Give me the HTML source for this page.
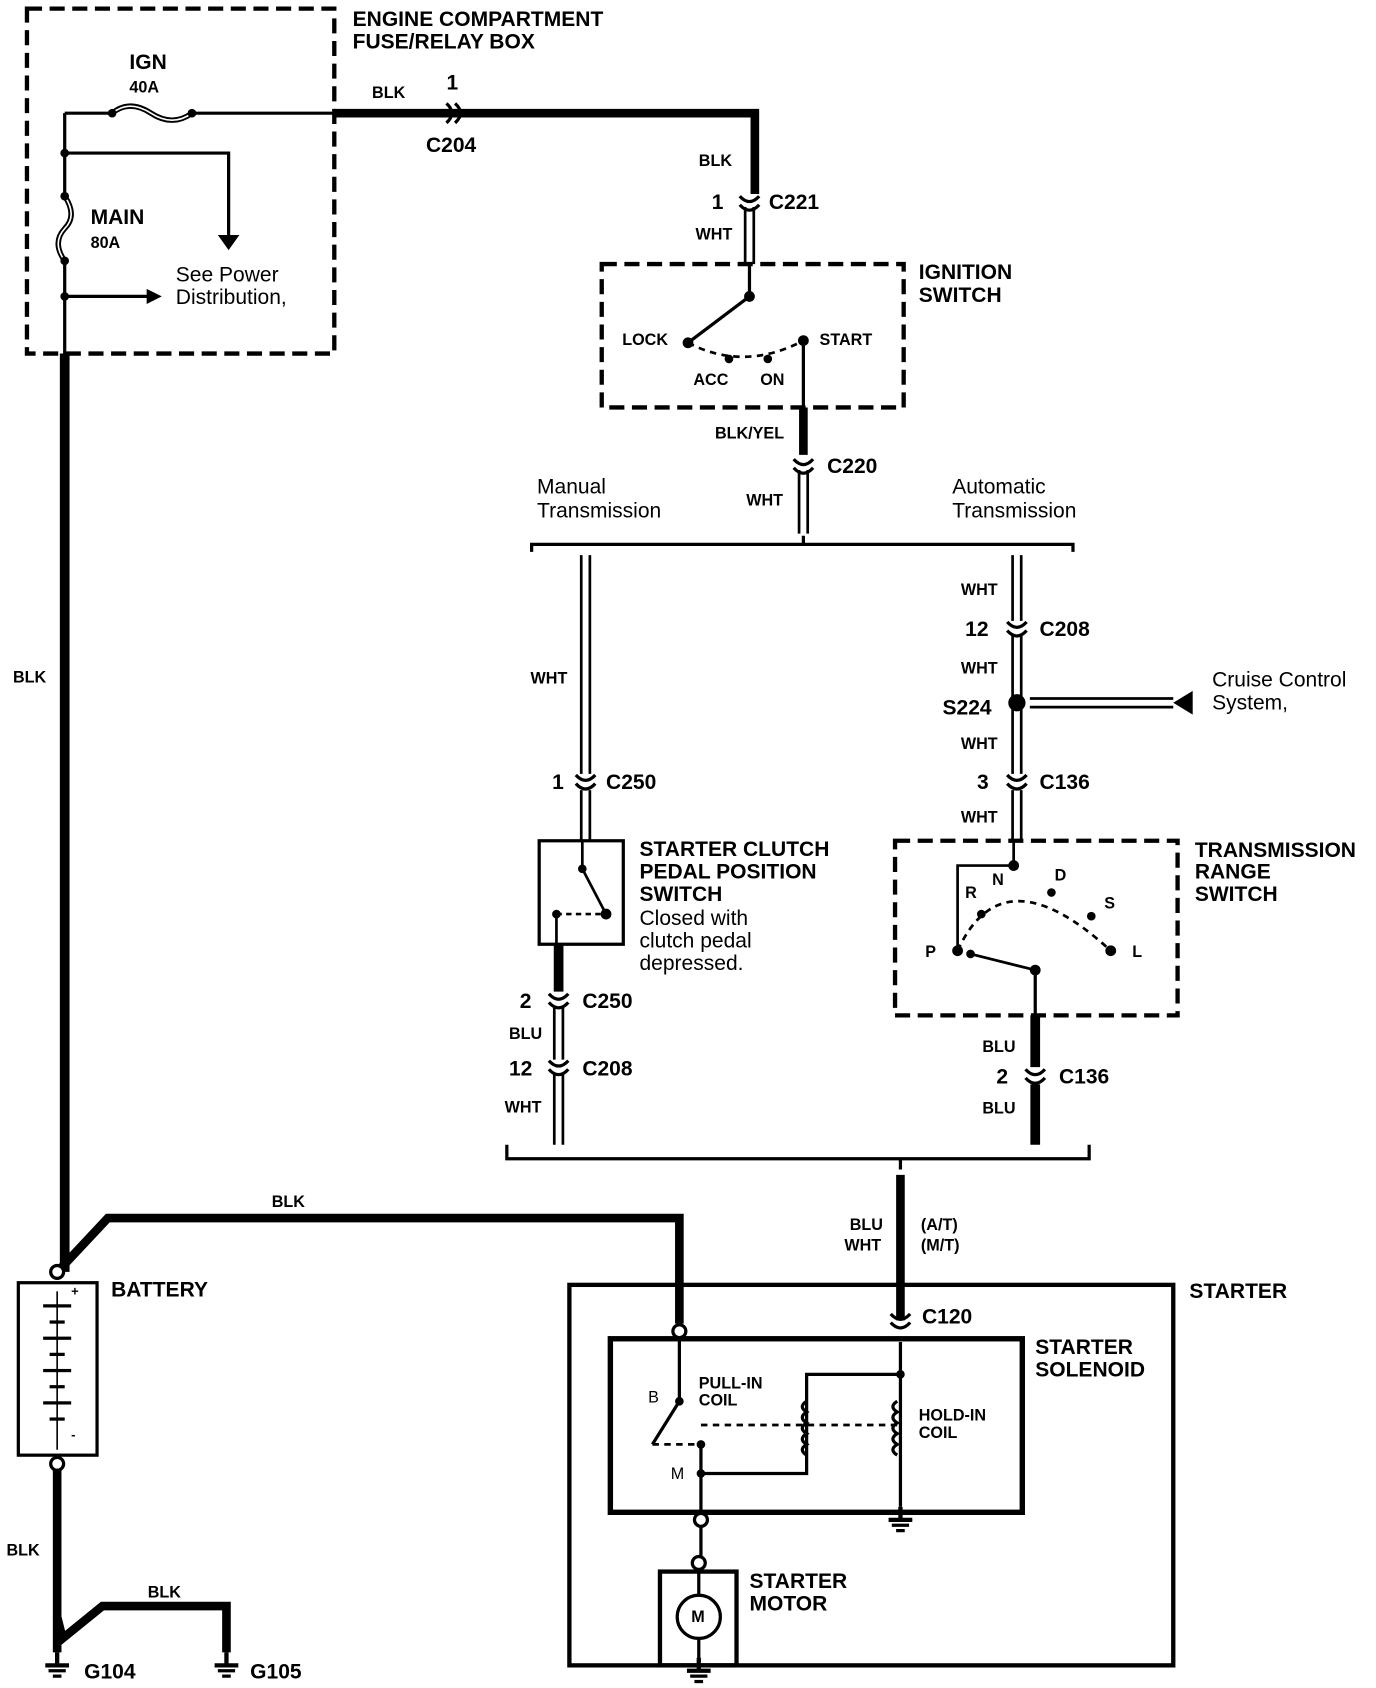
<!DOCTYPE html>
<html><head><meta charset="utf-8"><style>
html,body{margin:0;padding:0;background:#fff}
svg{display:block}
text{font-family:"Liberation Sans",Arial,sans-serif;font-weight:bold;fill:#000}
</style></head><body>
<svg width="1376" height="1688" viewBox="0 0 1276 1566" preserveAspectRatio="none" xmlns="http://www.w3.org/2000/svg">
<defs>
<g id="conn"><path d="M-9,-6 Q0,4 9,-6 M-9,2 Q0,12 9,2" fill="none" stroke="#000" stroke-width="3"/></g>
<g id="connh"><path d="M-6,-9 Q4,0 -6,9 M2,-9 Q12,0 2,9" fill="none" stroke="#000" stroke-width="3"/></g>
<g id="gnd"><line x1="0" y1="-12" x2="0" y2="0" stroke="#000" stroke-width="4"/><line x1="-11" y1="0" x2="11" y2="0" stroke="#000" stroke-width="4"/><line x1="-8" y1="5" x2="8" y2="5" stroke="#000" stroke-width="3"/><line x1="-4" y1="10" x2="4" y2="10" stroke="#000" stroke-width="3"/></g>
</defs>
<g fill="none" stroke="#000">
<rect x="25" y="8" width="285" height="320" stroke-width="4" stroke-dasharray="14,7"/>
<path d="M60,105 H104 M178,105 H310" stroke-width="3"/>
<path d="M104,105 Q120,92 140,105 Q160,118 178,105" stroke-width="5"/>
<path d="M104,105 Q120,92 140,105 Q160,118 178,105" stroke="#fff" stroke-width="1.5"/>
<path d="M60,105 V182 M60,242 V328" stroke-width="3"/>
<path d="M60,182 Q72,200 60,212 Q48,225 60,242" stroke-width="5"/>
<path d="M60,182 Q72,200 60,212 Q48,225 60,242" stroke="#fff" stroke-width="1.5"/>
<path d="M60,142 H212 V218 M60,275 H140" stroke-width="3"/>
<path d="M60,328 V1180" stroke-width="9"/>
<path d="M310,105 H700 V180" stroke-width="8"/>
<path d="M691,192 V245 M699,192 V245" stroke-width="2.5"/>
<rect x="558" y="245" width="280" height="133" stroke-width="4" stroke-dasharray="14,7"/>
<path d="M695,245 V275 L638,318" stroke-width="3"/>
<path d="M638,318 Q690,345 745,316" stroke-width="2.5" stroke-dasharray="6,5"/>
<path d="M745,316 V378" stroke-width="3"/>
<path d="M745,378 V422" stroke-width="8"/>
<path d="M741,436 V495 M749,436 V495" stroke-width="2.5"/>
<path d="M493,512 V505 H995 V512 M745,505 V497" stroke-width="3"/>
<path d="M539,515 V718 M547,515 V718 M539,733 V780 M547,733 V780" stroke-width="2.5"/>
<rect x="500" y="780" width="78" height="96" stroke-width="3"/>
<path d="M540,780 V806 L562,848 M516,848 V876" stroke-width="2.5"/>
<path d="M516,848 H562" stroke-width="2.5" stroke-dasharray="5,4"/>
<path d="M518,876 V920" stroke-width="9"/>
<path d="M514,935 V983 M522,935 V983 M514,997 V1062 M522,997 V1062" stroke-width="2.5"/>
<path d="M939,515 V576 M947,515 V576 M939,590 V718 M947,590 V718 M939,733 V780 M947,733 V780" stroke-width="2.5"/>
<path d="M955,648 H1088 M955,656 H1088" stroke-width="2.5"/>
<rect x="830" y="780" width="262" height="162" stroke-width="4" stroke-dasharray="14,7"/>
<path d="M940,780 V803 M888,882 V803 H940 M960,900 L900,885" stroke-width="2.5"/>
<path d="M888,882 Q930,790 1030,882" stroke-width="2.5" stroke-dasharray="6,5"/>
<path d="M960,900 V942" stroke-width="3"/>
<path d="M960,942 V990 M960,1006 V1062" stroke-width="9"/>
<path d="M470,1062 V1075 H1010 V1062 M835,1075 V1085" stroke-width="3"/>
<path d="M835,1090 V1225" stroke-width="8"/>
<path d="M57,1176 L100,1130 H630 V1228" stroke-width="8"/>
<rect x="17" y="1190" width="73" height="160" stroke-width="3"/>
<path d="M53,1198 V1345" stroke-width="1.5"/>
<path d="M53,1358 V1500 L58,1520 L95,1490 H210 V1533" stroke-width="8"/>
<path d="M53,1500 V1533" stroke-width="8"/>
<rect x="528" y="1192" width="560" height="353" stroke-width="4"/>
<rect x="566" y="1242" width="382" height="161" stroke-width="5"/>
<path d="M630,1241 V1300 M630,1300 L605,1340 M650,1340 V1410" stroke-width="3"/>
<path d="M605,1340 H650 M650,1322 H832" stroke-width="2.5" stroke-dasharray="6,5"/>
<path d="M835,1245 V1398 M650,1367 H748 V1275 H832" stroke-width="3"/>
<path d="M748,1300 q-8,5 0,10 q-8,5 0,10 q-8,5 0,10 q-8,5 0,10 q-8,5 0,10 M832,1300 q-8,5 0,10 q-8,5 0,10 q-8,5 0,10 q-8,5 0,10 q-8,5 0,10" stroke-width="3"/>
<path d="M650,1415 V1445 M648,1455 V1480 M648,1520 V1550" stroke-width="3"/>
<rect x="612" y="1458" width="71" height="87" stroke-width="4"/>
<circle cx="648" cy="1500" r="20" stroke-width="3"/>
</g>
<g fill="#000">
<circle cx="104" cy="105" r="4"/><circle cx="178" cy="105" r="4"/>
<circle cx="60" cy="142" r="4"/><circle cx="60" cy="182" r="4"/><circle cx="60" cy="242" r="4"/><circle cx="60" cy="275" r="4"/>
<polygon points="202,218 222,218 212,232"/><polygon points="136,268 136,282 150,275"/>
<circle cx="695" cy="275" r="5"/><circle cx="638" cy="318" r="5"/><circle cx="676" cy="333" r="4"/><circle cx="712" cy="333" r="4"/><circle cx="745" cy="316" r="5"/>
<circle cx="540" cy="806" r="4"/><circle cx="562" cy="848" r="5"/><circle cx="516" cy="848" r="4"/>
<circle cx="943" cy="652" r="8"/><polygon points="1088,652 1106,641 1106,663"/>
<circle cx="940" cy="803" r="5"/><circle cx="910" cy="848" r="4"/><circle cx="888" cy="882" r="5"/><circle cx="975" cy="828" r="4"/><circle cx="1012" cy="850" r="4"/><circle cx="1030" cy="882" r="5"/><circle cx="900" cy="885" r="4"/><circle cx="960" cy="900" r="5"/>
<circle cx="630" cy="1300" r="4"/><circle cx="650" cy="1340" r="4"/><circle cx="650" cy="1367" r="4"/><circle cx="835" cy="1275" r="4"/>
<rect x="40" y="1210" width="26" height="3"/><rect x="46" y="1225" width="14" height="3"/><rect x="40" y="1240" width="26" height="3"/><rect x="46" y="1255" width="14" height="3"/><rect x="40" y="1270" width="26" height="3"/><rect x="46" y="1285" width="14" height="3"/><rect x="40" y="1300" width="26" height="3"/><rect x="46" y="1315" width="14" height="3"/>
</g>
<g fill="#fff" stroke="#000" stroke-width="3">
<circle cx="53" cy="1180" r="6"/><circle cx="53" cy="1358" r="6"/><circle cx="630" cy="1235" r="6"/><circle cx="650" cy="1410" r="6"/><circle cx="648" cy="1450" r="6"/>
</g>
<use href="#connh" x="420" y="105"/>
<use href="#conn" x="695" y="188"/>
<use href="#conn" x="745" y="432"/>
<use href="#conn" x="543" y="725"/>
<use href="#conn" x="518" y="928"/>
<use href="#conn" x="518" y="990"/>
<use href="#conn" x="943" y="583"/>
<use href="#conn" x="943" y="725"/>
<use href="#conn" x="960" y="998"/>
<use href="#conn" x="835" y="1225"/>
<use href="#gnd" x="53" y="1545"/><use href="#gnd" x="210" y="1545"/><use href="#gnd" x="835" y="1410"/><use href="#gnd" x="648" y="1550"/>
<g font-size="19.5">
<text x="327" y="24">ENGINE COMPARTMENT</text><text x="327" y="45">FUSE/RELAY BOX</text>
<text x="120" y="64">IGN</text><text x="84" y="208">MAIN</text>
<text x="395" y="141">C204</text><text x="414" y="83">1</text>
<text x="660" y="194">1</text><text x="713" y="194">C221</text>
<text x="852" y="259">IGNITION</text><text x="852" y="280">SWITCH</text>
<text x="767" y="439">C220</text>
<text x="512" y="732">1</text><text x="562" y="732">C250</text>
<text x="593" y="794">STARTER CLUTCH</text><text x="593" y="815">PEDAL POSITION</text><text x="593" y="836">SWITCH</text>
<text x="482" y="935">2</text><text x="540" y="935">C250</text>
<text x="472" y="998">12</text><text x="540" y="998">C208</text>
<text x="895" y="590">12</text><text x="964" y="590">C208</text>
<text x="874" y="663">S224</text>
<text x="906" y="732">3</text><text x="964" y="732">C136</text>
<text x="1108" y="795">TRANSMISSION</text><text x="1108" y="815">RANGE</text><text x="1108" y="836">SWITCH</text>
<text x="924" y="1005">2</text><text x="982" y="1005">C136</text>
<text x="103" y="1203">BATTERY</text><text x="1103" y="1204">STARTER</text>
<text x="855" y="1228">C120</text>
<text x="960" y="1256">STARTER</text><text x="960" y="1277">SOLENOID</text>
<text x="695" y="1473">STARTER</text><text x="695" y="1494">MOTOR</text>
<text x="78" y="1557">G104</text><text x="232" y="1557">G105</text>
</g>
<g font-size="19.5">
<text x="163" y="261" style="font-weight:normal">See Power</text><text x="163" y="282" style="font-weight:normal">Distribution,</text>
<text x="498" y="458" style="font-weight:normal">Manual</text><text x="498" y="480" style="font-weight:normal">Transmission</text>
<text x="883" y="458" style="font-weight:normal">Automatic</text><text x="883" y="480" style="font-weight:normal">Transmission</text>
<text x="593" y="858" style="font-weight:normal">Closed with</text><text x="593" y="879" style="font-weight:normal">clutch pedal</text><text x="593" y="900" style="font-weight:normal">depressed.</text>
<text x="1124" y="637" style="font-weight:normal">Cruise Control</text><text x="1124" y="658" style="font-weight:normal">System,</text>
</g>
<g font-size="15">
<text x="120" y="86">40A</text><text x="84" y="230">80A</text>
<text x="345" y="91">BLK</text><text x="648" y="154">BLK</text><text x="645" y="222">WHT</text>
<text x="577" y="320">LOCK</text><text x="760" y="320">START</text><text x="643" y="357">ACC</text><text x="705" y="357">ON</text>
<text x="663" y="407">BLK/YEL</text><text x="692" y="469">WHT</text>
<text x="12" y="633">BLK</text><text x="492" y="634">WHT</text>
<text x="891" y="552">WHT</text><text x="891" y="625">WHT</text><text x="891" y="695">WHT</text><text x="891" y="763">WHT</text>
<text x="472" y="964">BLU</text><text x="468" y="1032">WHT</text>
<text x="911" y="976">BLU</text><text x="911" y="1033">BLU</text>
<text x="252" y="1120">BLK</text>
<text x="788" y="1141">BLU</text><text x="783" y="1160">WHT</text><text x="854" y="1141">(A/T)</text><text x="854" y="1160">(M/T)</text>
<text x="895" y="833">R</text><text x="920" y="821">N</text><text x="978" y="817">D</text><text x="1024" y="843">S</text><text x="1050" y="888">L</text><text x="858" y="888">P</text>
<text x="648" y="1288">PULL-IN</text><text x="648" y="1304">COIL</text>
<text x="852" y="1318">HOLD-IN</text><text x="852" y="1334">COIL</text>
<text x="601" y="1301" style="font-weight:normal">B</text><text x="622" y="1372" style="font-weight:normal">M</text>
<text x="641" y="1505">M</text>
<text x="6" y="1443">BLK</text><text x="137" y="1482">BLK</text>
<text x="66" y="1202" font-size="12">+</text><text x="66" y="1335" font-size="12">-</text>
</g>
</svg>
</body></html>
